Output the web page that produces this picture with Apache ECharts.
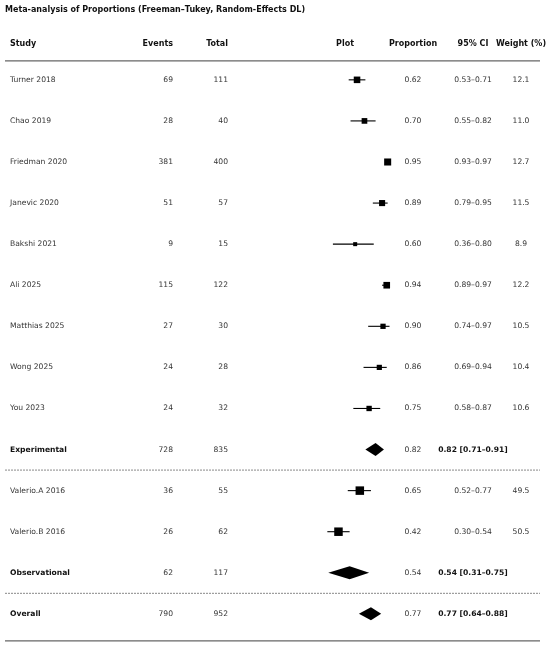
<!DOCTYPE html>
<html>
<head>
<meta charset="utf-8">
<title>Meta-analysis of Proportions</title>
<script src="https://cdn.jsdelivr.net/npm/echarts@6/dist/echarts.min.js"></script>
<style>
html, body { margin: 0; padding: 0; background: #ffffff; }
#forestChart { width: 550px; height: 647px; }
</style>
</head>
<body>
<div id="forestChart"></div>
<script>
// 数据
var studies = ['Turner 2018', 'Chao 2019', 'Friedman 2020', 'Janevic 2020', 'Bakshi 2021', 'Ali 2025',
	'Matthias 2025', 'Wong 2025', 'You 2023', 'Experimental', 'Valerio.A 2016', 'Valerio.B 2016',
	'Observational', 'Overall'];
var events = [69, 28, 381, 51, 9, 115, 27, 24, 24, 728, 36, 26, 62, 790];
var totals = [111, 40, 400, 57, 15, 122, 30, 28, 32, 835, 55, 62, 117, 952];
var proportions = [0.62, 0.70, 0.95, 0.89, 0.60, 0.94, 0.90, 0.86, 0.75, 0.82, 0.65, 0.42, 0.54, 0.77];
var lowerCI = [0.53, 0.55, 0.93, 0.79, 0.36, 0.89, 0.74, 0.69, 0.58, 0.71, 0.52, 0.30, 0.31, 0.64];
var upperCI = [0.71, 0.82, 0.97, 0.95, 0.80, 0.97, 0.97, 0.94, 0.87, 0.91, 0.77, 0.54, 0.75, 0.88];
var weights = [12.1, 11.0, 12.7, 11.5, 8.9, 12.2, 10.5, 10.4, 10.6, null, 49.5, 50.5, null, null];
var summaryRows = [false, false, false, false, false, false, false, false, false, true, false, false, true, true];
var headers = ['Study', 'Events', 'Total', 'Plot', 'Proportion', '95% CI', 'Weight (%)'];

var forestChart = echarts.init(document.getElementById('forestChart'));
var fontFamily = 'DejaVu Sans';

// 列位置
var colX = [10, 173, 228, 345, 413, 473, 521];
var colAlign = ['left', 'right', 'right', 'center', 'center', 'center', 'center'];

function fmt(v) {
	return v.toFixed(2);
}

var rowData = [];
for (var i = 0; i < studies.length; i++) {
	rowData.push([proportions[i], i, lowerCI[i], upperCI[i]]);
}

// 文字列
function renderTextRow(params, api) {
	var i = params.dataIndex;
	var y = api.coord([0, i])[1];
	var bold = summaryRows[i];
	var ci = bold ? fmt(proportions[i]) + ' [' + fmt(lowerCI[i]) + '\u2013' + fmt(upperCI[i]) + ']'
		: fmt(lowerCI[i]) + '\u2013' + fmt(upperCI[i]);
	var texts = [studies[i], String(events[i]), String(totals[i]), null, fmt(proportions[i]), ci,
		weights[i] == null ? '' : weights[i].toFixed(1)];
	var children = [];
	for (var c = 0; c < texts.length; c++) {
		if (texts[c] == null) continue;
		var isBold = bold && (c == 0 || c == 5);
		children.push({
			type: 'text',
			style: {
				x: colX[c],
				y: y,
				text: texts[c],
				textAlign: colAlign[c],
				textVerticalAlign: 'middle',
				fontFamily: fontFamily,
				fontSize: 7.6,
				fontWeight: isBold ? 'bold' : 'normal',
				fill: isBold ? '#111111' : '#333333'
			}
		});
	}
	return { type: 'group', children: children };
}

// 森林图
function renderMark(params, api) {
	var i = params.dataIndex;
	var p = api.coord([api.value(0), api.value(1)]);
	var lo = api.coord([api.value(2), api.value(1)]);
	var hi = api.coord([api.value(3), api.value(1)]);
	if (summaryRows[i]) {
		var h = 6.5;
		return {
			type: 'polygon',
			shape: { points: [[lo[0], p[1]], [p[0], p[1] - h], [hi[0], p[1]], [p[0], p[1] + h]] },
			style: { fill: '#000000' }
		};
	}
	var s = Math.max(4, Math.min(8.5, 4 + (weights[i] - 8.9) * 0.8));
	return {
		type: 'group',
		children: [{
			type: 'line',
			shape: { x1: lo[0], y1: lo[1], x2: hi[0], y2: hi[1] },
			style: { stroke: '#000000', lineWidth: 1.1 }
		}, {
			type: 'rect',
			shape: { x: p[0] - s / 2, y: p[1] - s / 2, width: s, height: s },
			style: { fill: '#000000' }
		}]
	};
}

// 分隔线
var sepRows = [-0.46, 9.5, 12.5, 13.66];
var sepDashed = [false, true, true, false];
function renderSep(params, api) {
	var i = params.dataIndex;
	var y = api.coord([0, api.value(1)])[1];
	return {
		type: 'line',
		shape: { x1: 5, y1: y, x2: 540, y2: y },
		style: {
			stroke: sepDashed[i] ? '#888888' : '#666666',
			lineWidth: sepDashed[i] ? 1 : 1.2,
			lineDash: sepDashed[i] ? [2, 1] : null
		}
	};
}

var headerGraphics = [{
	type: 'text',
	x: 5,
	y: 10,
	style: {
		text: 'Meta-analysis of Proportions (Freeman\u2013Tukey, Random-Effects DL)',
		textVerticalAlign: 'middle',
		fontFamily: fontFamily,
		fontSize: 8,
		fontWeight: 'bold',
		fill: '#111111'
	}
}];
for (var h = 0; h < headers.length; h++) {
	headerGraphics.push({
		type: 'text',
		x: colX[h],
		y: 43.5,
		style: {
			text: headers[h],
			textAlign: colAlign[h],
			textVerticalAlign: 'middle',
			fontFamily: fontFamily,
			fontSize: 8,
			fontWeight: 'bold',
			fill: '#111111'
		}
	});
}

var forestOption = {
	animation: false,
	backgroundColor: '#ffffff',
	grid: {
		left: 299.5,
		width: 92.8,
		top: 59.3,
		height: 575.1
	},
	xAxis: {
		type: 'value',
		min: 0,
		max: 1,
		show: false
	},
	yAxis: {
		type: 'value',
		min: -0.5,
		max: 13.5,
		inverse: true,
		show: false
	},
	graphic: headerGraphics,
	series: [{
		type: 'custom',
		clip: false,
		renderItem: renderSep,
		data: sepRows.map(function (r) { return [0, r]; }),
		silent: true
	}, {
		type: 'custom',
		clip: false,
		renderItem: renderTextRow,
		data: rowData,
		silent: true
	}, {
		type: 'custom',
		clip: false,
		renderItem: renderMark,
		encode: { x: [0, 2, 3], y: 1 },
		data: rowData,
		silent: true
	}]
};

forestChart.setOption(forestOption);
</script>
</body>
</html>
